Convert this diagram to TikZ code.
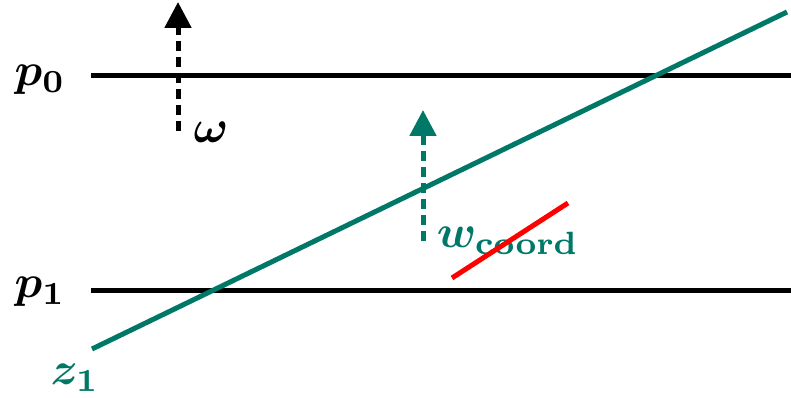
\documentclass[tikz,border=0pt]{standalone}
\usepackage{graphicx}
\usepackage{amsmath,bm}
\usetikzlibrary{arrows.meta}
\definecolor{tealc}{RGB}{0,120,104}
\definecolor{redc}{RGB}{255,0,0}
\begin{document}
\begin{tikzpicture}[x=1pt,y=-1pt,
  hline/.style={line width=5pt,black},
  vec/.style={line width=5pt,dash pattern=on 10pt off 6pt,-{Triangle[width=26pt,length=26pt]}},
  lbl/.style={inner sep=0pt}]
\useasboundingbox (0,0) rectangle (791,398);
\coordinate (p0a) at (91,76);
\coordinate (p0b) at (791,76);
\coordinate (p1a) at (91,290);
\coordinate (p1b) at (791,290);
\draw[hline] (p0a) -- (p0b);
\draw[hline] (p1a) -- (p1b);
\coordinate (za) at (92,349);
\coordinate (zb) at (787,12);
\draw[line width=5pt,tealc] (za) -- (zb);
\coordinate (oa) at (178,131);
\coordinate (ob) at (178,2);
\draw[vec,black] (oa) -- (ob);
\coordinate (wa) at (423,241);
\coordinate (wb) at (423,110);
\draw[vec,tealc] (wa) -- (wb);
\node[lbl,anchor=center] (p0) at (40,80) {\scalebox{4.6}{$\bm{p}_{\mathbf{0}}$}};
\node[lbl,anchor=center] (p1) at (40,292) {\scalebox{4.6}{$\bm{p}_{\mathbf{1}}$}};
\node[lbl,anchor=center] (om) at (211,132) {\scalebox{4.6}{$\bm{\omega}$}};
\node[lbl,anchor=center,text=tealc] (z1) at (75,378) {\scalebox{4.6}{$\bm{z}_{\mathbf{1}}$}};
\node[lbl,anchor=center,text=tealc] (wc) at (508,241) {\scalebox{4.6}{$\bm{w}_{\textbf{coord}}$}};
\coordinate (ra) at (452,278);
\coordinate (rb) at (568,203);
\draw[line width=5pt,redc] (ra) -- (rb);
\end{tikzpicture}
\end{document}
